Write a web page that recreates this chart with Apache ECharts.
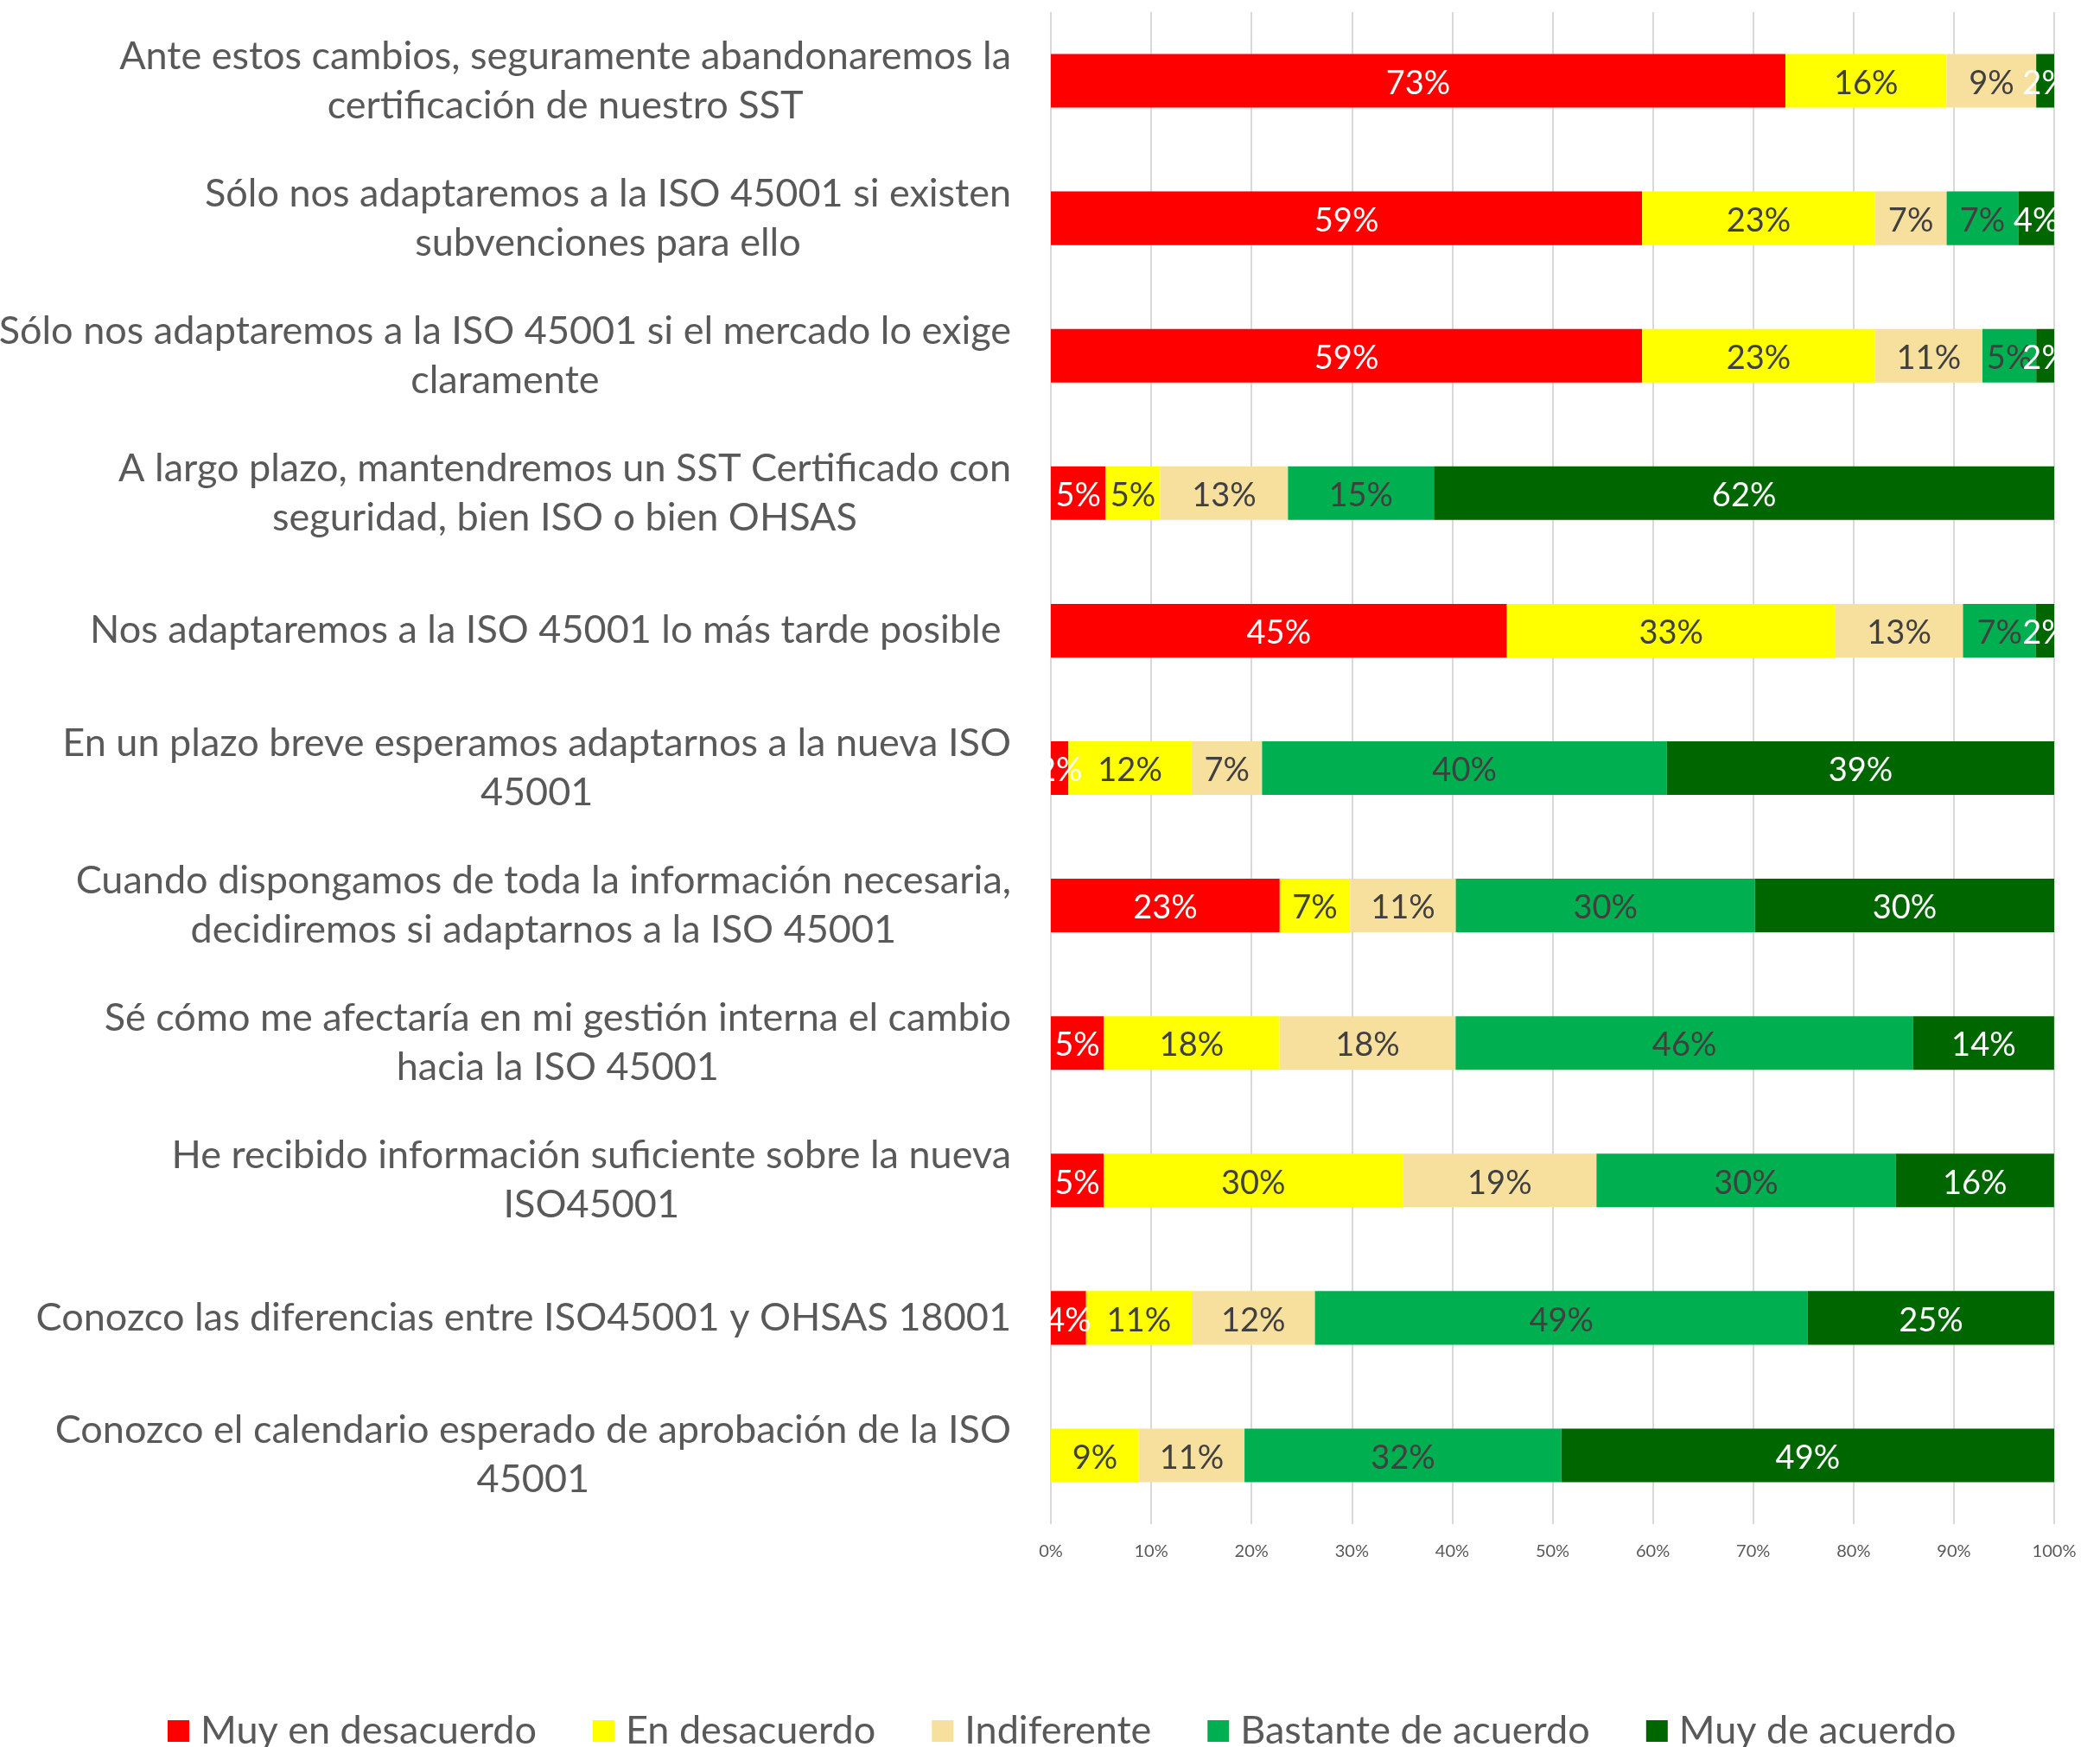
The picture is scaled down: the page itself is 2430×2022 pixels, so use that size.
<!DOCTYPE html>
<html>
<head>
<meta charset="utf-8">
<script src="https://cdn.jsdelivr.net/npm/echarts@6/dist/echarts.min.js"></script>
<style>
html,body{margin:0;padding:0;background:#fff;}
#chart{width:2430px;height:2022px;}
</style>
</head>
<body>
<div id="chart"></div>
<script>
const categories = [
  "Ante estos cambios, seguramente abandonaremos la\ncertificación de nuestro SST",
  "Sólo nos adaptaremos a la ISO 45001 si existen\nsubvenciones para ello",
  "Sólo nos adaptaremos a la ISO 45001 si el mercado lo exige\nclaramente",
  "A largo plazo, mantendremos un SST Certificado con\nseguridad, bien ISO o bien OHSAS",
  "Nos adaptaremos a la ISO 45001 lo más tarde posible ",
  "En un plazo breve esperamos adaptarnos a la nueva ISO\n45001",
  "Cuando dispongamos de toda la información necesaria,\ndecidiremos si adaptarnos a la ISO 45001",
  "Sé cómo me afectaría en mi gestión interna el cambio\nhacia la ISO 45001",
  "He recibido información suficiente sobre la nueva\nISO45001",
  "Conozco las diferencias entre ISO45001 y OHSAS 18001",
  "Conozco el calendario esperado de aprobación de la ISO\n45001"
];
const seriesNames = ["Muy en desacuerdo", "En desacuerdo", "Indiferente", "Bastante de acuerdo", "Muy de acuerdo"];
const muyDesacuerdo = [73.21, 58.93, 58.93, 5.45, 45.45, 1.75, 22.81, 5.26, 5.26, 3.51, 0];
const enDesacuerdo  = [16.07, 23.21, 23.21, 5.45, 32.73, 12.28, 7.02, 17.54, 29.82, 10.53, 8.77];
const indiferente   = [8.93, 7.14, 10.71, 12.73, 12.73, 7.02, 10.53, 17.54, 19.30, 12.28, 10.53];
const bastante      = [0, 7.14, 5.36, 14.55, 7.27, 40.35, 29.82, 45.61, 29.82, 49.12, 31.58];
const muyAcuerdo    = [1.79, 3.57, 1.79, 61.82, 1.82, 38.60, 29.82, 14.04, 15.79, 24.56, 49.12];
const xTicks = [0, 10, 20, 30, 40, 50, 60, 70, 80, 90, 100];

const colors = ["#FF0000", "#FFFF00", "#F7DF9E", "#00B050", "#006600"];
const labelColors = ["#FFFFFF", "#404040", "#404040", "#404040", "#FFFFFF"];
const FONT = "Lato";

const allData = [muyDesacuerdo, enDesacuerdo, indiferente, bastante, muyAcuerdo];

const chart = echarts.init(document.getElementById('chart'), null, {renderer: 'canvas'});
chart.setOption({
  animation: false,
  backgroundColor: '#ffffff',
  grid: {left: 1216, right: 53, top: 14, bottom: 258, containLabel: false, outerBoundsMode: 'none'},
  legend: {
    top: 1976,
    left: 189,
    itemWidth: 25,
    itemHeight: 25,
    itemGap: 65,
    icon: 'rect',
    textStyle: {fontFamily: FONT, fontSize: 45, color: '#595959', padding: [0, 0, 0, 8]},
    data: seriesNames
  },
  xAxis: {
    type: 'value',
    min: xTicks[0],
    max: xTicks[xTicks.length - 1],
    interval: 10,
    axisLine: {show: false},
    axisTick: {show: false},
    splitLine: {show: true, lineStyle: {color: '#D9D9D9', width: 2}},
    axisLabel: {formatter: '{value}%', fontFamily: FONT, fontSize: 20, color: '#595959', margin: 22}
  },
  yAxis: {
    type: 'category',
    inverse: true,
    data: categories,
    axisLine: {show: false},
    axisTick: {show: false},
    axisLabel: {
      margin: 46,
      align: 'right',
      formatter: function (v) {
        return v.split('\n').map(function (l) { return '{c|' + l + '}'; }).join('\n');
      },
      rich: {
        c: {align: 'center', fontFamily: FONT, fontSize: 45, lineHeight: 57, color: '#595959'}
      }
    }
  },
  series: allData.map(function (d, i) {
    return {
      name: seriesNames[i],
      type: 'bar',
      stack: 'total',
      barWidth: '39%',
      data: d,
      itemStyle: {color: colors[i]},
      label: {
        show: true,
        position: 'inside',
        offset: [0, 3],
        fontFamily: FONT,
        fontSize: 38,
        color: labelColors[i],
        formatter: function (p) { return p.value > 0 ? Math.round(p.value) + '%' : ''; }
      }
    };
  })
});
</script>
</body>
</html>
